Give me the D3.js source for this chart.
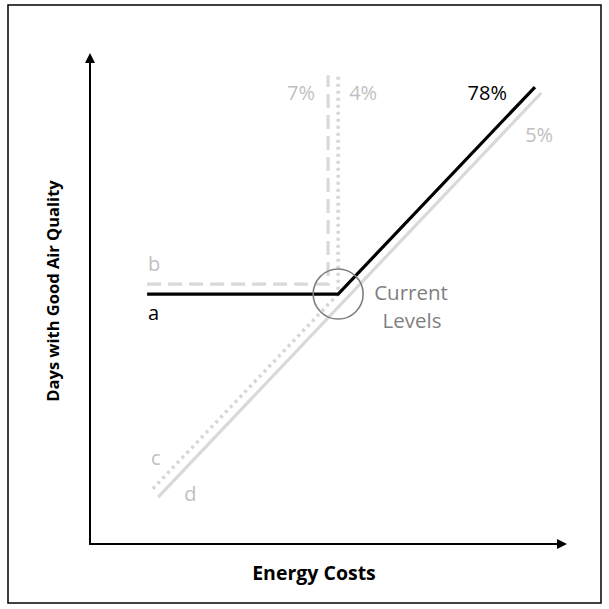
<!DOCTYPE html>
<html>
<head>
<meta charset="utf-8">
<script src="https://cdn.jsdelivr.net/npm/d3@7"></script>
<style>
  body { margin: 0; background: #fff; }
  svg { display: block; }
</style>
</head>
<body>
<div id="chart"></div>
<script>
// series names and end-point shares
const seriesNames = ["a", "b", "c", "d"]
const shareLabels = ["78%", "7%", "4%", "5%"]

// points per series, in chart units (x: energy costs, y: days with good air)
const seriesA = [[11.9, 50.6], [51.7, 50.6], [92.7, 92.5]]
const seriesB = [[11.9, 52.6], [49.6, 52.6], [49.6, 94.9]]
const seriesC = [[13.1, 11.2], [51.7, 50.6], [51.7, 94.9]]
const seriesD = [[14.2, 9.5], [94.0, 91.3]]

// the marked "current levels" point
const currentLevel = [51.7, 50.6]

const W = 609, H = 609

let svg = d3.select("#chart").append("svg")
    .attr("width", W).attr("height", H)

// outer frame
svg.append("rect")
    .attr("x", 8).attr("y", 5).attr("width", 593).attr("height", 598)
    .attr("fill", "none").attr("stroke", "black").attr("stroke-width", 1.5)

let x = d3.scaleLinear().domain([0, 100]).range([90, 570])
let y = d3.scaleLinear().domain([0, 100]).range([544, 50])

// arrow marker
let defs = svg.append("defs")
defs.append("marker")
    .attr("id", "arrow")
    .attr("viewBox", "0 0 10 10")
    .attr("refX", 1).attr("refY", 5)
    .attr("markerWidth", 12).attr("markerHeight", 10)
    .attr("markerUnits", "userSpaceOnUse")
    .attr("orient", "auto")
  .append("path")
    .attr("d", "M0,0L10,5L0,10Z")
    .attr("fill", "black")

// axes without ticks
let xAxis = svg.append("g").attr("transform", `translate(0,${y(0)})`)
    .call(d3.axisBottom(x).tickValues([]).tickSizeOuter(0))
let yAxis = svg.append("g").attr("transform", `translate(${x(0)},0)`)
    .call(d3.axisLeft(y).tickValues([]).tickSizeOuter(0))

xAxis.select(".domain").attr("stroke-width", 2)
    .attr("d", `M${x(0) - 1},0H${x(100) - 12}`)
    .attr("marker-end", "url(#arrow)")
yAxis.select(".domain").attr("stroke-width", 2)
    .attr("d", `M0,${y(0) + 1}V${y(100) + 12}`)
    .attr("marker-end", "url(#arrow)")

svg.append("text")
    .attr("x", 314).attr("y", 580)
    .attr("text-anchor", "middle")
    .style("font-family", "Open Sans").style("font-weight", "bold").style("font-size", "19.5px")
    .text("Energy Costs")

svg.append("text")
    .attr("transform", "translate(59,291) rotate(-90)")
    .attr("text-anchor", "middle")
    .style("font-family", "Open Sans").style("font-weight", "bold").style("font-size", "16.5px")
    .text("Days with Good Air Quality")

let line = d3.line().x(d => x(d[0])).y(d => y(d[1]))

const styles = {
    a: {stroke: "black", dash: null, width: 3.2},
    b: {stroke: "#d9d9d9", dash: "14,7", width: 3.2},
    c: {stroke: "#d6d6d6", dash: "3,4", width: 3.5},
    d: {stroke: "#d9d9d9", dash: null, width: 3.2}
}
let allSeries = [seriesA, seriesB, seriesC, seriesD]

// draw grey ones first, black on top
let order = [3, 2, 1, 0]
for (const i of order){
    let s = styles[seriesNames[i]]
    svg.append("path")
        .datum(allSeries[i])
        .attr("d", line)
        .attr("fill", "none")
        .attr("stroke", s.stroke)
        .attr("stroke-width", s.width)
        .attr("stroke-dasharray", s.dash)
}

// circle round current levels
svg.append("circle")
    .attr("cx", x(currentLevel[0])).attr("cy", y(currentLevel[1]))
    .attr("r", 25)
    .attr("fill", "none").attr("stroke", "#7f7f7f").attr("stroke-width", 1.6)

let note = svg.append("text")
    .attr("text-anchor", "middle")
    .style("font-family", "Open Sans").style("font-size", "20.5px")
    .style("fill", "#7f7f7f")
note.append("tspan").attr("x", 411).attr("y", 300).text("Current")
note.append("tspan").attr("x", 412).attr("y", 328).text("Levels")

// label helper
function label(px, py, txt, color, anchor){
    svg.append("text")
        .attr("x", px).attr("y", py)
        .attr("text-anchor", anchor)
        .style("font-family", "Open Sans").style("font-size", "20px")
        .style("fill", color)
        .text(txt)
}

// series letters at the start points
let start = allSeries.map(s => s[0])
label(x(start[0][0]) + 1, y(start[0][1]) + 26, seriesNames[0], "black", "start")
label(x(start[1][0]) + 1, y(start[1][1]) - 13, seriesNames[1], "#bfbfbf", "start")
label(x(start[2][0]) - 2, y(start[2][1]) - 24, seriesNames[2], "#bfbfbf", "start")
label(x(start[3][0]) + 26, y(start[3][1]) + 4, seriesNames[3], "#bfbfbf", "start")

// shares at the end points
let end = allSeries.map(s => s[s.length - 1])
label(x(end[0][0]) - 28, y(end[0][1]) + 13, shareLabels[0], "black", "end")
label(x(end[1][0]) - 13, y(end[1][1]) + 25, shareLabels[1], "#bfbfbf", "end")
label(x(end[2][0]) + 11, y(end[2][1]) + 25, shareLabels[2], "#bfbfbf", "start")
label(x(end[3][0]) - 16, y(end[3][1]) + 49, shareLabels[3], "#bfbfbf", "start")
</script>
</body>
</html>
